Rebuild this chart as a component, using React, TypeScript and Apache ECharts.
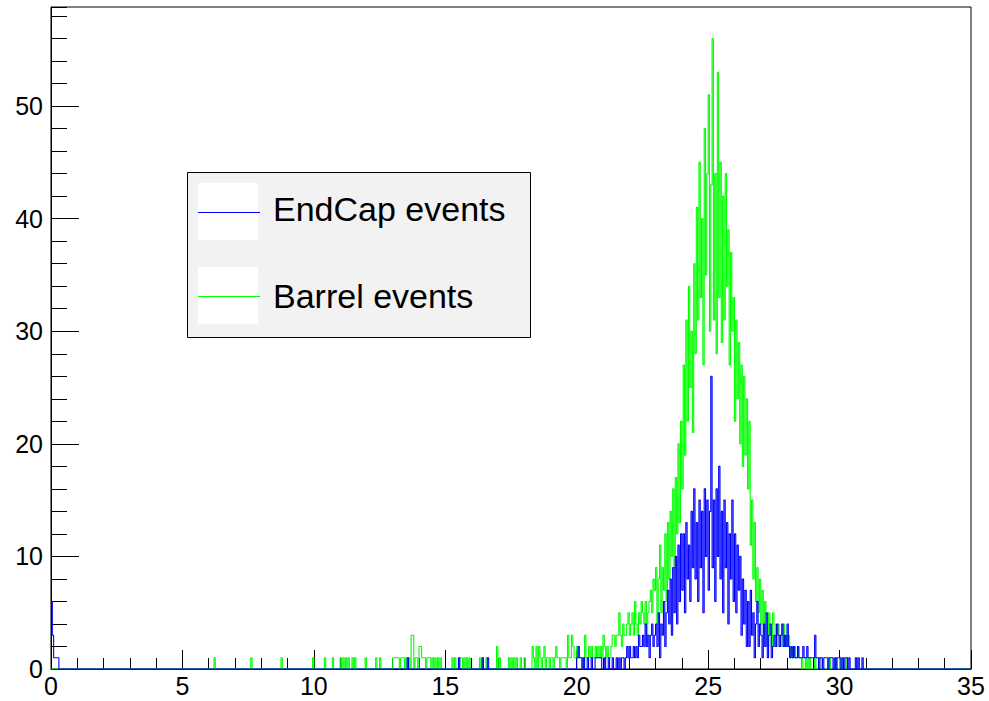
import React, { useEffect, useRef } from "react";
import * as echarts from "echarts";

// Histogram binning (bin width in x units, total range 0..35)
const BIN_WIDTH = 0.05;
const X_MIN = 0;
const X_MAX = 35;
const Y_MAX = 58.8;

const xTickLabels = ["0", "5", "10", "15", "20", "25", "30", "35"];
const yTickLabels = ["0", "10", "20", "30", "40", "50"];

const seriesNames = ["EndCap events", "Barrel events"];

// Barrel (green): dense counts from 19.0 onward, one value per bin
const barrelStart = 19.0;
const barrelCounts = [
  1, 1, 0, 1, 2, 1, 1, 0, 1, 1,
  1, 1, 0, 3, 1, 1, 3, 2, 1, 1,
  2, 1, 1, 1, 0, 1, 3, 1, 1, 2,
  1, 2, 1, 1, 2, 1, 2, 1, 2, 1,
  3, 2, 1, 2, 1, 1, 2, 3, 3, 2,
  3, 3, 5, 3, 2, 4, 3, 3, 4, 5,
  3, 4, 5, 3, 6, 4, 3, 5, 4, 6,
  5, 4, 6, 3, 5, 6, 7, 5, 8, 7,
  9, 4, 8, 11, 5, 9, 7, 12, 6, 13,
  8, 14, 10, 16, 9, 17, 12, 20, 13, 22,
  16, 27, 19, 31, 22, 34, 25, 30, 21, 36,
  28, 41, 31, 45, 33, 40, 27, 48, 35, 44,
  51, 30, 43, 56, 31, 44, 28, 53, 33, 45,
  29, 42, 31, 44, 34, 39, 27, 37, 30, 33,
  22, 31, 24, 29, 20, 27, 18, 26, 19, 24,
  16, 22, 11, 15, 8, 13, 6, 9, 5, 8,
  4, 7, 3, 6, 5, 2, 5, 4, 2, 5,
  4, 3, 2, 4, 3, 2, 3, 4, 2, 3,
  2, 3, 1, 2, 1, 2, 1, 1, 2, 1,
  1, 0, 1, 1, 0, 1, 0, 1, 0, 0,
  0, 1, 0, 0, 1, 1, 0, 0, 0, 0,
  0, 0, 1, 0, 0, 0, 0, 1, 0, 0,
  1, 0, 0, 0, 0, 1, 0, 0, 0, 0,
];
// Barrel (green): sparse low tail before 19.0 (bin left edge, count)
const barrelTailX = [
  6.2, 7.6, 8.75, 9.95, 10.4, 10.7, 11.0, 11.1, 11.2, 11.3, 11.45, 11.55, 11.95,
  12.35, 12.5, 13.0, 13.05, 13.1, 13.15, 13.2, 13.3, 13.35, 13.4, 13.5, 13.6,
  13.7, 13.75, 13.85, 13.9, 14.0, 14.05, 14.1, 14.15, 14.2, 14.3, 14.35, 14.4,
  14.5, 14.6, 14.7, 14.8, 15.25, 15.35, 15.55, 15.6, 15.7, 15.8, 15.9, 16.3,
  16.4, 16.55, 16.95, 17.05, 17.4, 17.5, 17.6, 17.7, 17.85, 18.0, 18.3, 18.35,
  18.45, 18.55, 18.6, 18.7, 18.75, 18.85, 18.9,
];
const barrelTailY = [
  1, 1, 1, 1, 1, 1, 1, 1, 1, 1, 1, 1, 1,
  1, 1, 1, 1, 1, 1, 1, 1, 1, 1, 1, 1,
  3, 3, 1, 1, 2, 2, 1, 1, 1, 1, 1, 1,
  1, 1, 1, 1, 1, 1, 1, 1, 1, 1, 1, 1,
  1, 1, 2, 1, 1, 1, 1, 1, 1, 1, 2, 1,
  2, 2, 1, 1, 2, 1, 1,
];

// EndCap (blue): dense counts from 20.0 onward
const endcapStart = 20.0;
const endcapCounts = [
  1, 2, 1, 1, 0, 1, 0, 0, 1, 0,
  0, 1, 0, 0, 1, 1, 1, 1, 1, 0,
  0, 1, 0, 0, 1, 0, 0, 1, 0, 0,
  1, 0, 1, 0, 1, 1, 0, 1, 2, 1,
  2, 1, 1, 2, 1, 2, 1, 3, 2, 2,
  3, 2, 4, 2, 3, 1, 3, 4, 2, 3,
  4, 2, 5, 1, 4, 3, 6, 2, 5, 7,
  4, 8, 3, 9, 5, 10, 4, 11, 6, 12,
  7, 12, 5, 13, 8, 11, 6, 14, 9, 16,
  8, 13, 6, 15, 9, 14, 5, 16, 10, 15,
  7, 14, 26, 9, 15, 6, 16, 10, 18, 8,
  14, 5, 15, 9, 13, 4, 12, 8, 15, 6,
  12, 5, 11, 7, 10, 3, 8, 4, 7, 2,
  6, 2, 7, 3, 5, 1, 4, 6, 2, 4,
  3, 1, 4, 2, 5, 1, 3, 4, 1, 2,
  3, 2, 4, 3, 2, 3, 4, 2, 3, 2,
  4, 2, 1, 2, 1, 2, 1, 1, 2, 1,
  1, 1, 2, 1, 1, 2, 1, 1, 1, 1,
  1, 3, 1, 1, 0, 1, 1, 0, 1, 1,
  1, 0, 1, 1, 1, 0, 1, 0, 1, 1,
  1, 0, 1, 0, 1, 1, 0, 1, 0, 0,
  0, 0, 1, 0, 1, 0, 0, 1, 0, 0,
];
// EndCap (blue): sparse entries before 20.0
const endcapTailX = [0.0, 0.05, 0.1, 0.15, 0.2, 0.25, 13.55, 15.5, 16.4, 16.6];
const endcapTailY = [6, 3, 1, 1, 1, 1, 1, 1, 1, 1];

const FONT = "'Liberation Sans', Arial, Helvetica, sans-serif";

function buildBins(start: number, dense: number[], tx: number[], ty: number[]): number[] {
  const n = Math.round((X_MAX - X_MIN) / BIN_WIDTH);
  const h = new Array(n).fill(0);
  tx.forEach((x, i) => {
    const k = Math.round((x - X_MIN) / BIN_WIDTH);
    if (k >= 0 && k < n) h[k] = ty[i];
  });
  const s = Math.round((start - X_MIN) / BIN_WIDTH);
  dense.forEach((v, i) => {
    if (s + i < n) h[s + i] = v;
  });
  return h;
}

function stepData(h: number[]): number[][] {
  const pts: number[][] = [];
  h.forEach((v, i) => {
    const x0 = +(X_MIN + i * BIN_WIDTH).toFixed(4);
    const x1 = +(X_MIN + (i + 1) * BIN_WIDTH).toFixed(4);
    pts.push([x0, v], [x1, v]);
  });
  return pts;
}

export default function App() {
  const ref = useRef<HTMLDivElement>(null);
  useEffect(() => {
    if (!ref.current) return;
    const chart = echarts.init(ref.current, undefined, { renderer: "svg" });
    const barrel = stepData(buildBins(barrelStart, barrelCounts, barrelTailX, barrelTailY));
    const endcap = stepData(buildBins(endcapStart, endcapCounts, endcapTailX, endcapTailY));
    const black = "#000";
    const legX = 187, legY = 172, legW = 344, legH = 166;
    chart.setOption({
      animation: false,
      backgroundColor: "#fff",
      grid: {
        left: 51, top: 7, width: 920, height: 662,
        show: true, borderColor: black, borderWidth: 1, backgroundColor: "transparent",
      },
      xAxis: {
        type: "value", min: X_MIN, max: X_MAX, interval: 5,
        axisLine: { show: true, lineStyle: { color: black, width: 1 } },
        axisTick: { show: true, inside: true, length: 19, lineStyle: { color: black, width: 1 } },
        minorTick: { show: true, splitNumber: 5, length: 11, lineStyle: { color: black, width: 1 } },
        axisLabel: {
          color: black, fontSize: 25, fontFamily: FONT, margin: 4,
          formatter: (v: number) => {
            const i = Math.round(v / 5);
            return Math.abs(v - i * 5) < 1e-6 && xTickLabels[i] !== undefined ? xTickLabels[i] : "";
          },
        },
        splitLine: { show: false }, minorSplitLine: { show: false },
      },
      yAxis: [
        {
          type: "value", min: 0, max: Y_MAX, interval: 10, position: "left",
          axisLine: { show: true, lineStyle: { color: black, width: 1 } },
          axisTick: { show: true, inside: true, length: 28, lineStyle: { color: black, width: 1 } },
          axisLabel: {
            color: black, fontSize: 25, fontFamily: FONT, margin: 8, showMaxLabel: false,
            formatter: (v: number) => {
              const i = Math.round(v / 10);
              return Math.abs(v - i * 10) < 1e-6 && yTickLabels[i] !== undefined ? yTickLabels[i] : "";
            },
          },
          splitLine: { show: false },
        },
        {
          type: "value", min: 0, max: Y_MAX, interval: 2, position: "left", offset: 0,
          axisLine: { show: false },
          axisTick: { show: true, inside: true, length: 16, lineStyle: { color: black, width: 1 } },
          axisLabel: { show: false },
          splitLine: { show: false },
        },
      ],
      series: [
        {
          name: seriesNames[1], type: "line", data: barrel, yAxisIndex: 0,
          showSymbol: false, symbol: "none", silent: true,
          lineStyle: { color: "#00ff00", width: 1.1 },
        },
        {
          name: seriesNames[0], type: "line", data: endcap, yAxisIndex: 0,
          showSymbol: false, symbol: "none", silent: true,
          lineStyle: { color: "#0000ff", width: 1.1 },
        },
      ],
      graphic: [
        {
          type: "group", z: 100,
          children: [
            { type: "rect", shape: { x: legX + 0.5, y: legY + 0.5, width: legW - 1, height: legH - 1 },
              style: { fill: "#f2f2f2", stroke: black, lineWidth: 1 } },
            { type: "rect", shape: { x: 198, y: 183, width: 60, height: 57 }, style: { fill: "#fff" } },
            { type: "rect", shape: { x: 198, y: 267, width: 60, height: 57 }, style: { fill: "#fff" } },
            { type: "line", shape: { x1: 198, y1: 212.5, x2: 260, y2: 212.5 }, style: { stroke: "#0000ff", lineWidth: 1 } },
            { type: "line", shape: { x1: 198, y1: 296.5, x2: 260, y2: 296.5 }, style: { stroke: "#00ff00", lineWidth: 1 } },
            { type: "text", x: 273, y: 209, style: { text: seriesNames[0], fill: black, fontSize: 34, fontFamily: FONT, verticalAlign: "middle", align: "left" } },
            { type: "text", x: 273, y: 296, style: { text: seriesNames[1], fill: black, fontSize: 34, fontFamily: FONT, verticalAlign: "middle", align: "left" } },
          ],
        },
      ],
    });
    return () => chart.dispose();
  }, []);
  return <div ref={ref} style={{ position: "absolute", left: 0, top: 0, width: 989, height: 701 }} />;
}
